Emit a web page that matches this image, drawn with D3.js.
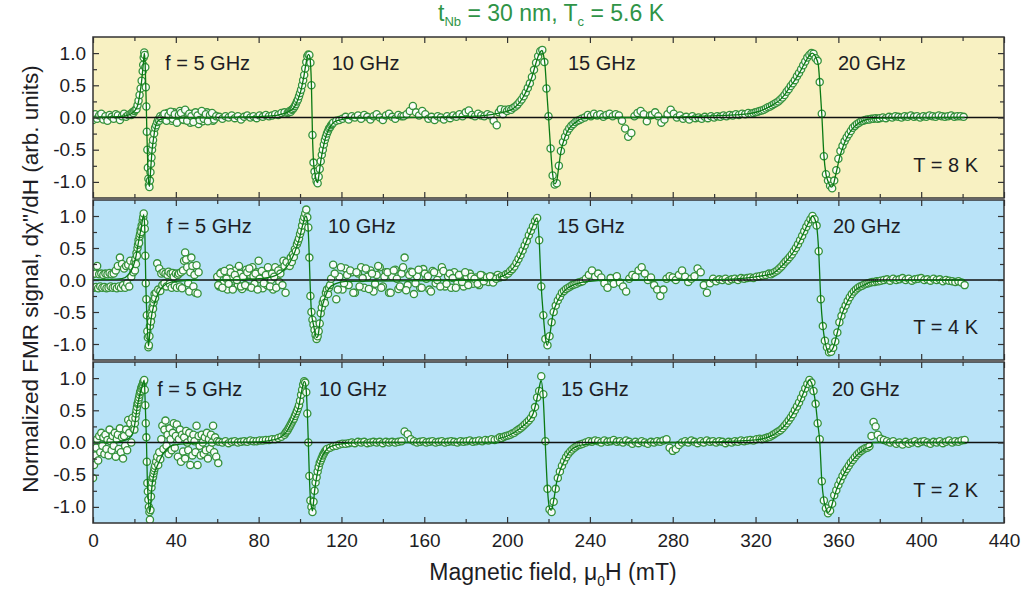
<!DOCTYPE html>
<html>
<head>
<meta charset="utf-8">
<script src="https://cdn.jsdelivr.net/npm/d3@7"></script>
<style>
  body { margin: 0; background: #ffffff; }
  svg { display: block; }
  text { font-family: "Liberation Sans", Arial, Helvetica, sans-serif; }
</style>
</head>
<body>
<svg id="chart" width="1031" height="590"></svg>
<script>
// ---------------------------------------------------------------------------
// Measured FMR derivative signal, one list of field sweeps per temperature.
// Each sweep run: [start field (mT), field step (mT), normalized signal values]
// ---------------------------------------------------------------------------
const scan8K = [
  [0, 1, [-0.04,0.05,-0.02,0.03,0.06,-0.03,0.02,-0.05,0.04,0.01,-0.02,0.05,0.03,-0.04,0.02,0.06,0.01,0.04]],
  [18, 0.5, [0.05,0.04,0.08,0.07,0.10,0.12,0.13,0.19,0.26,0.35,0.45,0.57]],
  [24, 0.25, [0.72,0.82,0.93,1.01,0.97,0.78,0.47,0.17,-0.22,-0.50,-0.78,-0.95,-1.05,-1.08,-0.98,-0.85,-0.72,-0.62,-0.50,-0.42,-0.35]],
  [29.5, 0.5, [-0.25,-0.16,-0.12,-0.07,-0.03,-0.05,0.02,-0.01]],
  [34, 1, [0.04,-0.03,0.07,0.02,-0.05,0.08,0.03,-0.06,0.10,0.05,-0.04,0.09,0.02,-0.08,0.06,-0.02,0.04,-0.10,0.05,-0.06,0.03,0.08,-0.04,0.02,-0.05,0.03,0.01]],
  [34.5, 1, [0.06,-0.05,0.03,0.09,-0.02,0.05,-0.08,0.04,0.07,-0.03,0.12,-0.05,0.06,0.02,-0.07,0.08,0.03,-0.04,0.10,-0.02,0.05,-0.06,0.04,0.07,-0.03,0.02]],
  [61, 1.5, [0.01,-0.02,0.02,0.00,0.03,-0.01,0.02,-0.03,0.01,0.03,0.00,0.02,-0.01,0.03,0.01,0.04,0.02,0.03,0.05,0.04,0.07,0.08]],
  [94, 0.5, [0.07,0.08,0.10,0.09,0.12,0.13,0.15,0.18,0.21,0.25,0.28,0.33,0.38,0.43,0.50,0.58,0.66,0.76,0.86,0.95]],
  [104, 0.5, [0.98,0.97,0.85,0.50,-0.27,-0.70,-0.84,-0.92,-0.99,-1.02,-0.92,-0.80,-0.68,-0.58,-0.50,-0.42,-0.35,-0.30,-0.25,-0.21,-0.17,-0.15,-0.12,-0.10,-0.08]],
  [117.5, 1.5, [-0.05,-0.04,-0.02,0.01,-0.03,0.02,0.00,0.03,-0.02,0.04,0.01,-0.03,0.02,0.05,0.00,-0.04,0.03,0.06,0.01,-0.02,0.04,0.02]],
  [150, 1.5, [0.02,0.05,0.10,0.18,0.08,0.03,0.10,0.05,-0.02,0.01,-0.04,0.02,0.00,-0.03,0.02,-0.01,0.03,0.01,0.05,0.02,0.08,0.11,0.04,0.02,0.06,0.03,0.02,0.05,0.03,-0.05,-0.12]],
  [196, 1, [0.08,0.13,0.05,0.12,0.10,0.13,0.12,0.15,0.17,0.20,0.24,0.28,0.33,0.39,0.46,0.53,0.63,0.74,0.85,0.95,1.03,1.05,0.86,0.45,0.02,-0.48,-0.90,-1.04,-1.02,-0.75,-0.52,-0.38,-0.30,-0.22,-0.17,-0.13,-0.10,-0.07,-0.05,-0.04,-0.02]],
  [237.5, 1.5, [0.00,0.04,0.02,0.06,0.03,0.05,0.01,0.04,0.06,0.02,0.05,0.03,-0.05,-0.17,-0.30,-0.24,0.02,0.07,0.10,0.05,-0.06,0.03]],
  [270, 1.5, [0.04,0.08,0.02,-0.08,-0.03,0.05,0.12,0.06,0.00,0.03,-0.02,0.01,-0.03,0.02,-0.01,0.00,-0.02,0.01,-0.01,0.02,0.00,0.02,0.01,0.03,0.02,0.04,0.03,0.05,0.04,0.06,0.05,0.07,0.06]],
  [319, 1, [0.07,0.08,0.09,0.10,0.11,0.12,0.14,0.16,0.17,0.19,0.21,0.23,0.25,0.28,0.31,0.35,0.40,0.44,0.49,0.53,0.58,0.64,0.69,0.75,0.81,0.87,0.93,0.97,1.00,0.99,
            0.92,0.88,0.55,0.06,-0.60,-0.88,-0.98,-1.06,-1.10,-0.98,-0.82,-0.64,-0.52,-0.44,-0.37,-0.31,-0.26,-0.21,-0.16,-0.13,-0.10,-0.08,-0.06,-0.05,-0.04,-0.03,-0.03,-0.02,-0.02,-0.01,-0.02,-0.01]],
  [381.5, 1.5, [0.00,-0.01,0.01,0.00,0.02,0.01,0.00,0.02,0.01,0.03,0.01,0.02,0.00,0.02,0.01,0.03,0.02,0.01,0.03,0.02,0.01,0.02,0.03,0.01,0.02,0.02,0.01]]
];

const scan4K = [
  [0, 0.5, [0.09,-0.12,0.10,-0.11,0.22,-0.13,0.09,-0.10,0.10,-0.12,0.08,-0.11,0.10,-0.13,0.09,-0.12,0.11,-0.10,0.09,-0.12,0.10,-0.11,0.15,-0.13,0.22,-0.10,0.35,-0.12,0.25,-0.08,0.18,-0.12,0.22,-0.05,0.24,-0.10,0.30,0.05,0.20,0.12]],
  [20, 0.25, [0.28,0.15,0.33,0.25,0.42,0.38,0.50,0.55,0.62,0.58,0.68,0.72,0.78,0.75,0.85,0.82,0.93,0.98,1.04,0.90,0.80,0.38,-0.05,-0.30,-0.55,-0.80,-0.90,-1.05,-1.02,-0.88,-0.72,-0.60,-0.65,-0.50,-0.55,-0.42,-0.45,-0.35,-0.30,-0.22,-0.28]],
  [30.5, 0.5, [-0.20,0.26,-0.15,0.18,-0.17,0.10,-0.08,0.12,-0.05,0.10,-0.10,0.08,0.13,-0.06,0.10,-0.12,0.11,0.05,-0.09,0.10,-0.12,0.08,0.10,-0.10,0.12,-0.13,0.15,0.30,0.43,0.32,0.20,-0.05,-0.18,0.12,0.35,0.22,-0.10,0.08,-0.20,0.23,-0.21,0.12]],
  [60, 1, [0.05,-0.10,0.12,-0.05,0.08,-0.15,0.18,0.02,-0.12,0.15,-0.08,0.10,-0.14,0.05,0.16,-0.10,0.08,0.20,-0.06,0.12,0.30,0.05,-0.13,0.10,-0.08,0.15,0.00,-0.15,0.20,0.08,-0.03,0.18,0.30,-0.20,0.25]],
  [60.5, 1, [-0.08,0.10,-0.12,0.14,0.02,-0.06,0.12,-0.15,0.08,0.00,0.22,-0.10,0.05,-0.08,0.12,0.18,-0.12,0.06,0.10,-0.15,0.02,0.14,-0.05,0.08,0.20,-0.10,0.10,0.05,-0.12,0.15,0.10,-0.08,0.22,0.28]],
  [95, 0.5, [0.22,0.35,0.28,0.40,0.36,0.48,0.45,0.56,0.60,0.65,0.72,0.77,0.85,0.93,0.98,1.04,1.10,0.98,0.82,0.35,-0.25,-0.50,-0.62,-0.70,-0.78,-0.86,-0.92,-0.88,-0.80,-0.68,-0.52,-0.43,-0.35,-0.30,-0.36,-0.20,-0.15,-0.22,-0.12,-0.08,0.02]],
  [116, 1.5, [0.24,-0.30,0.05,-0.15,0.18,-0.08,0.12,-0.20,0.10,0.20,-0.12,0.05,0.15,-0.18,0.08,0.20,-0.10,0.12,-0.20,0.05,0.16,-0.14,0.10,0.35,-0.08,0.13,-0.22,0.06,-0.12,0.17,0.02,-0.15,0.14,-0.05,0.10,0.20,-0.10,0.06,-0.12,0.12,-0.04,0.08,-0.10,0.05,0.10,-0.06,0.04,-0.08,0.07,0.02,-0.03,0.05,0.03,0.08]],
  [116.75, 1.5, [0.10,-0.15,0.20,-0.05,0.08,0.15,-0.20,0.12,-0.10,0.03,0.18,-0.14,0.10,-0.06,0.22,-0.12,0.05,0.12,-0.20,0.15,0.02,-0.10,0.20,-0.16,0.08,0.12,-0.05,0.16,-0.12,0.10,0.06,-0.18,0.12,0.00,-0.10,0.14,-0.06,0.10,0.03,-0.12,0.08,-0.03,0.12,-0.08,0.05,0.02,-0.06,0.08,-0.02,0.04,0.06,-0.04,0.02]],
  [196.5, 1, [0.04,0.06,0.05,0.09,0.10,0.14,0.17,0.21,0.27,0.33,0.39,0.46,0.54,0.61,0.70,0.77,0.84,0.92,0.97,0.62,-0.10,-0.55,-0.92,-1.02,-0.88,-0.66,-0.50,-0.40,-0.32,-0.26,-0.20,-0.17,-0.14,-0.12,-0.10,-0.08,-0.07,-0.06,-0.04,-0.03,-0.02]],
  [238, 1.5, [0.02,0.08,0.15,0.05,0.10,0.04,-0.05,-0.12,0.03,-0.06,0.06,-0.04,-0.10,-0.18,0.02,0.08,0.05,0.15,0.20,0.10,0.00,0.04,-0.08,-0.15,-0.25,-0.15,0.02,0.06,0.04,0.00,0.08,0.15,0.05,-0.03,0.02]],
  [290.5, 1.5, [0.06,0.18,0.12,-0.08,-0.20,-0.05,0.02,-0.02,0.01,0.00,0.02,-0.01,0.01,0.02,0.00,0.03,0.02,0.03,0.04,0.03,0.05,0.06,0.07,0.08,0.10]],
  [327.5, 1, [0.09,0.11,0.13,0.15,0.18,0.21,0.25,0.29,0.32,0.36,0.40,0.45,0.50,0.56,0.62,0.69,0.76,0.83,0.89,0.95,1.00,0.95,0.85,0.45,-0.30,-0.72,-0.95,-1.05,-1.13,-1.12,-1.06,-0.96,-0.82,-0.66,-0.56,-0.47,-0.40,-0.33,-0.27,-0.22,-0.18,-0.15,-0.12,-0.10,-0.09,-0.07,-0.06,-0.05,-0.04,-0.03,-0.03,-0.02,-0.02,-0.01]],
  [382, 1.5, [0.00,0.01,-0.01,0.02,0.00,0.01,0.03,0.00,0.02,-0.01,0.01,0.02,0.03,0.00,0.01,-0.01,0.02,0.00,0.01,-0.02,0.00,-0.01,-0.02,-0.03,-0.02,-0.04,-0.08]]
];

const scan2K = [
  [0, 0.5, [-0.55,-0.35,-0.20,-0.08,0.05,-0.28,0.10,-0.15,0.15,-0.05,0.08,-0.18,0.12,-0.10,0.04,-0.20,0.20,0.02,-0.12,0.10,-0.05,0.15,-0.22,0.05,0.12,-0.10,0.22,-0.15,0.08,-0.25,0.10,-0.05,0.20,-0.12,0.35,0.15,0.30,0.00,0.38,0.22]],
  [20, 0.25, [0.20,0.30,0.38,0.45,0.50,0.55,0.60,0.62,0.66,0.70,0.74,0.78,0.80,0.84,0.86,0.88,0.90,0.93,0.95,0.97,0.82,0.58,0.30,0.08,-0.30,-0.63,-0.76,-0.89,-1.00,-1.08,-1.20,-1.05,-0.84,-0.70,-0.62,-0.55,-0.53,-0.48,-0.44,-0.40,-0.36]],
  [30.5, 0.5, [-0.30,-0.22,-0.35,-0.15,-0.26,0.05,0.26,-0.10,0.20,0.34,-0.05,0.12,-0.18,0.22,0.05,-0.12,0.15,0.30,-0.08,0.10,0.28,-0.22,0.05,0.20,-0.30,0.12,-0.14,0.08,-0.25,0.18,0.00,-0.12,0.15,-0.35,0.05,-0.20,0.12,0.02,-0.15,0.26,-0.35,0.10,-0.05,-0.20,0.12,0.00,-0.18,0.08,-0.12,0.15,-0.25,0.05,-0.10,0.12,0.00,0.26,-0.15,0.08,-0.22,0.02,-0.32]],
  [61, 1.5, [0.01,0.00,0.02,-0.01,0.01,0.02,0.00,0.01,0.02,0.01,0.03,0.02,0.02,0.03,0.03,0.04,0.04,0.05,0.05,0.07,0.09,0.12]],
  [93, 0.5, [0.15,0.17,0.19,0.22,0.25,0.28,0.31,0.34,0.37,0.41,0.45,0.49,0.53,0.58,0.65,0.74,0.82,0.90,0.95,0.93,0.78,0.45,0.00,-0.52,-0.90,-1.00,-1.08,-0.92,-0.75,-0.62,-0.54,-0.45,-0.38,-0.32,-0.28,-0.24,-0.20,-0.17,-0.14,-0.12,-0.10]],
  [114.5, 1.5, [-0.08,-0.06,-0.05,-0.03,-0.02,-0.02,-0.01,0.00,-0.01,0.01,0.00,0.01,-0.01,0.00,0.01,0.00,0.01,-0.01,0.01,0.00,0.01,0.00,0.01,0.02,0.17,0.13,0.05,0.02,0.00,0.01,0.02,0.00,0.01,0.02,0.00,0.01,0.02,0.00,0.01,0.02,0.01,0.00,0.02,0.01,0.02,0.03,0.01,0.02,0.03,0.02,0.04,0.03,0.05,0.04,0.06]],
  [196.5, 1, [0.08,0.07,0.09,0.10,0.11,0.12,0.14,0.15,0.18,0.20,0.22,0.25,0.28,0.31,0.34,0.38,0.44,0.55,0.70,0.80,1.03,0.75,0.02,-0.72,-1.04,-1.08,-0.92,-0.72,-0.55,-0.45,-0.36,-0.29,-0.23,-0.18,-0.14,-0.11,-0.08,-0.06,-0.04,-0.03,-0.02]],
  [238, 1.5, [0.00,0.02,0.01,0.03,0.02,0.00,0.03,0.01,0.02,0.04,0.01,0.02,0.00,0.03,0.01,-0.02,0.01,-0.01,0.02,0.00,-0.02,0.01,0.00,0.02,0.01,0.03,0.05,-0.08,-0.13,-0.10,-0.04,0.00,0.02,0.00,0.03,0.01,-0.01,0.02,0.00,0.03,0.01,0.02,0.00,0.02,0.01,-0.01,0.01,0.00,0.02,0.01,0.03,0.02,0.03,0.04,0.03,0.05,0.06]],
  [323, 1, [0.05,0.06,0.07,0.08,0.09,0.11,0.13,0.15,0.17,0.19,0.22,0.26,0.30,0.34,0.39,0.44,0.50,0.56,0.62,0.69,0.76,0.84,0.91,0.97,0.93,0.80,0.60,0.30,0.05,-0.60,-0.90,-1.02,-1.10,-1.06,-0.95,-0.82,-0.74,-0.66,-0.59,-0.52,-0.46,-0.41,-0.36,-0.31,-0.27,-0.23,-0.19,-0.16,-0.13,-0.11,-0.09,-0.08,-0.06,0.10,0.32,0.25,0.12]],
  [380.5, 1.5, [0.06,0.04,0.02,0.00,0.02,-0.02,0.00,-0.03,0.01,-0.02,0.00,0.02,-0.01,0.01,0.02,0.00,-0.02,0.01,0.00,0.02,-0.01,0.01,0.03,0.00,0.02,0.01,0.03,0.04]]
];

// Fitted resonance curves, [field (mT), signal] knots, one list per frequency
const fit8K = [
  [[0,0],[15,0.02],[18,0.05],[20,0.1],[21.5,0.18],[22.5,0.34],[23.5,0.57],[24.25,0.82],[24.8,1.0],[25.2,0.82],[25.5,0.47],[25.75,0.17],[26,-0.22],[26.5,-0.78],[27,-1.04],[27.3,-1.07],[27.75,-0.86],[28.5,-0.52],[29.5,-0.27],[30,-0.16],[31,-0.07],[32.5,-0.03],[36,-0.01],[60,0]],
  [[61,0],[85,0.02],[92,0.06],[95,0.1],[97,0.15],[99,0.28],[100.5,0.43],[101.8,0.63],[103,0.86],[104,0.98],[104.6,0.96],[105.1,0.82],[105.5,0.5],[106,-0.27],[106.5,-0.68],[107.2,-0.87],[108,-0.99],[108.5,-1.01],[109,-0.92],[110,-0.68],[111,-0.5],[112,-0.35],[113,-0.25],[114.5,-0.15],[116,-0.08],[119,-0.04],[125,-0.01],[150,0]],
  [[150,0],[185,0.02],[193,0.05],[198,0.08],[203,0.14],[206,0.23],[208,0.33],[210,0.46],[212,0.63],[214,0.85],[215.5,0.99],[216.8,1.04],[217.5,0.98],[218.3,0.82],[219,0.48],[220,0.02],[221,-0.48],[222,-0.88],[223,-1.03],[224,-0.98],[225,-0.75],[226,-0.53],[228,-0.3],[230,-0.17],[232.5,-0.09],[236,-0.02],[250,0],[270,0]],
  [[270,0],[295,0.02],[310,0.04],[317,0.06],[322,0.1],[325,0.14],[328.5,0.2],[331.7,0.27],[334,0.35],[336.5,0.47],[339,0.58],[341.3,0.7],[343.5,0.83],[345.5,0.94],[347.3,1.0],[348.3,0.98],[349.3,0.92],[350.3,0.82],[351,0.55],[352,0.05],[353,-0.58],[354,-0.88],[355,-0.99],[356.5,-1.08],[357.5,-1.05],[358.5,-0.92],[359.5,-0.78],[360.6,-0.62],[362.5,-0.43],[365,-0.26],[367.5,-0.15],[370.2,-0.08],[374,-0.03],[380,-0.01],[421,0]]
];

const fit4K = [
  [[0,0],[14,0.02],[17,0.08],[19,0.18],[20.5,0.33],[22,0.6],[23.3,0.82],[24.5,1.02],[25,0.8],[25.5,-0.05],[26,-0.55],[26.5,-0.9],[26.8,-1.03],[27.3,-0.88],[27.8,-0.68],[28.5,-0.52],[29.2,-0.42],[30.5,-0.28],[32.5,-0.15],[35,-0.07],[40,-0.02],[51,0]],
  [[60,0],[80,0.02],[88,0.07],[92,0.15],[95,0.27],[97.5,0.44],[99.5,0.63],[101.2,0.85],[102.8,1.0],[103.6,0.92],[104.2,0.6],[104.8,0],[105.5,-0.5],[106.5,-0.7],[108,-0.9],[108.6,-0.88],[109.5,-0.68],[110.5,-0.45],[112,-0.28],[114,-0.13],[117,-0.06],[122,-0.02],[196,0]],
  [[196,0.04],[200,0.1],[202.5,0.17],[204.6,0.27],[207,0.42],[209.4,0.61],[211.5,0.77],[213,0.89],[214.4,0.97],[215.5,0.62],[216.4,-0.05],[217.5,-0.55],[218.5,-0.9],[219.4,-1.02],[220.5,-0.88],[222.2,-0.53],[224.5,-0.32],[227.1,-0.19],[230,-0.11],[233.5,-0.06],[240,-0.02],[250,0],[290,0]],
  [[290,0],[305,0.01],[315,0.03],[322,0.06],[327.5,0.09],[331.5,0.18],[335.5,0.32],[339.5,0.5],[342.5,0.69],[345.5,0.89],[347.5,1.0],[348.5,0.96],[349.5,0.85],[350.5,0.45],[351.5,-0.3],[352.5,-0.72],[353.5,-0.95],[355.5,-1.13],[357.5,-1.06],[359.5,-0.82],[361.5,-0.56],[363.5,-0.4],[365.5,-0.27],[368.5,-0.15],[371.8,-0.09],[376,-0.03],[385,-0.01],[421,0]]
];

const fit2K = [
  [[0,0],[12,0.01],[16,0.04],[18.5,0.1],[20,0.25],[21.2,0.52],[22.5,0.73],[23.8,0.88],[24.75,0.97],[25.25,0.58],[25.8,0.05],[26.25,-0.6],[26.75,-0.88],[27.3,-1.08],[27.8,-1.0],[28.3,-0.74],[29.2,-0.53],[30.8,-0.38],[32.5,-0.26],[34,-0.17],[35.7,-0.1],[38,-0.05],[44,-0.02],[61,0]],
  [[61,0],[80,0.01],[87,0.04],[90.5,0.08],[93,0.15],[95.2,0.26],[97.5,0.41],[99.2,0.54],[100.8,0.8],[102,0.95],[102.6,0.92],[103.2,0.7],[103.6,0.4],[104,0],[104.5,-0.52],[105,-0.88],[105.5,-1.0],[106,-1.06],[106.5,-0.93],[107,-0.76],[108,-0.54],[109.5,-0.32],[111,-0.2],[113,-0.1],[116,-0.05],[120,-0.02],[130,0],[196,0]],
  [[196,0.06],[201.5,0.12],[205,0.19],[207.8,0.26],[210.5,0.34],[212.6,0.45],[214.3,0.66],[215.5,0.85],[216.4,0.96],[217.4,0.72],[218.4,0.02],[219.5,-0.72],[220.6,-1.03],[221.4,-1.05],[222.5,-0.9],[223.9,-0.62],[225.5,-0.44],[227.1,-0.32],[230,-0.15],[233.5,-0.06],[240,-0.02],[250,0],[290,0]],
  [[290,0],[310,0.02],[320,0.04],[325,0.07],[328,0.11],[331,0.17],[334,0.26],[336.5,0.37],[339,0.5],[341.3,0.63],[343.5,0.8],[346,0.97],[347,0.93],[348,0.8],[349,0.6],[350,0.3],[351,0.02],[352,-0.6],[353,-0.9],[354,-1.02],[355,-1.09],[356.2,-1.04],[357.5,-0.9],[359,-0.74],[361.2,-0.58],[363.8,-0.42],[367,-0.27],[370.2,-0.16],[373.4,-0.09],[376,-0.06],[376.5,0],[421,0]]
];

const frequencyLabels = ["f = 5 GHz", "10 GHz", "15 GHz", "20 GHz"];
const temperatureLabels = ["T = 8 K", "T = 4 K", "T = 2 K"];
const fieldTicks = d3.range(0, 441, 40);
const signalTicks = [-1.0, -0.5, 0.0, 0.5, 1.0];

// ---------------------------------------------------------------------------
// Layout
// ---------------------------------------------------------------------------
const FONT = '"Liberation Sans", Arial, Helvetica, sans-serif';
const INK = "#1d1d24";
const POINT_STROKE = "#34913a";
const FIT_STROKE = "#0b7a14";

const panels = [
  { top: 37,  bottom: 198, fill: "#f8f1c2", scan: scan8K, fits: fit8K, temp: temperatureLabels[0],
    freqAt: [34.8, 115.3, 229.4, 359.8], labelBase: 70 },
  { top: 200, bottom: 360, fill: "#b9e3f8", scan: scan4K, fits: fit4K, temp: temperatureLabels[1],
    freqAt: [35.6, 113.5, 224.1, 357.4], labelBase: 233 },
  { top: 362, bottom: 523, fill: "#b9e3f8", scan: scan2K, fits: fit2K, temp: temperatureLabels[2],
    freqAt: [31.0, 109.2, 226.0, 356.9], labelBase: 396 }
];

const svg = d3.select("#chart");
const x = d3.scaleLinear().domain([0, 440]).range([93, 1004]);

function styleTicks(g) {
  g.select(".domain").remove();
  g.selectAll(".tick line").attr("stroke", "#333").attr("stroke-width", 1.2);
}

panels.forEach((p, i) => {
  const y = d3.scaleLinear().domain([-1.25, 1.25]).range([p.bottom, p.top]);
  const g = svg.append("g");
  const w = x.range()[1] - x.range()[0];
  const h = p.bottom - p.top;

  g.append("rect")
    .attr("x", x.range()[0]).attr("y", p.top)
    .attr("width", w).attr("height", h)
    .attr("fill", p.fill);

  const clipId = "clip" + i;
  svg.append("clipPath").attr("id", clipId)
    .append("rect")
    .attr("x", x.range()[0]).attr("y", p.top)
    .attr("width", w).attr("height", h);

  const plot = g.append("g").attr("clip-path", `url(#${clipId})`);

  // expand sweep runs into points
  const points = p.scan.flatMap(([h0, dh, vals]) =>
    vals.map((v, k) => ({ h: h0 + k * dh, v })));

  plot.append("g").selectAll("circle")
    .data(points)
    .join("circle")
    .attr("cx", d => x(d.h))
    .attr("cy", d => y(d.v))
    .attr("r", 3.6)
    .attr("fill", "#ffffff")
    .attr("fill-opacity", 0.92)
    .attr("stroke", POINT_STROKE)
    .attr("stroke-width", 1.3);

  // zero reference line
  plot.append("line")
    .attr("x1", x(0)).attr("x2", x(440))
    .attr("y1", y(0)).attr("y2", y(0))
    .attr("stroke", "#111").attr("stroke-width", 1.3);

  const line = d3.line()
    .x(d => x(d[0]))
    .y(d => y(d[1]))
    .curve(d3.curveMonotoneX);

  plot.append("g").selectAll("path")
    .data(p.fits)
    .join("path")
    .attr("d", line)
    .attr("fill", "none")
    .attr("stroke", FIT_STROKE)
    .attr("stroke-width", 1.3);

  // frequency labels
  g.append("g").selectAll("text")
    .data(frequencyLabels)
    .join("text")
    .attr("x", (d, k) => x(p.freqAt[k]))
    .attr("y", p.labelBase)
    .attr("font-size", 20)
    .attr("fill", INK)
    .text(d => d);

  // temperature label
  g.append("text")
    .attr("x", 978)
    .attr("y", y(-0.84))
    .attr("text-anchor", "end")
    .attr("font-size", 20)
    .attr("fill", INK)
    .text(p.temp);

  // inward ticks on all four edges
  const xMinor = d3.range(20, 441, 40);
  const yMinor = [-0.75, -0.25, 0.25, 0.75];
  [[fieldTicks, 6], [xMinor, 4]].forEach(([vals, s]) => {
    g.append("g").attr("transform", `translate(0,${p.top})`)
      .call(d3.axisTop(x).tickValues(vals).tickSize(-s).tickFormat(""))
      .call(styleTicks);
    g.append("g").attr("transform", `translate(0,${p.bottom})`)
      .call(d3.axisBottom(x).tickValues(vals).tickSize(-s).tickFormat(""))
      .call(styleTicks);
  });
  [[signalTicks, 6], [yMinor, 4]].forEach(([vals, s]) => {
    g.append("g").attr("transform", `translate(${x.range()[0]},0)`)
      .call(d3.axisLeft(y).tickValues(vals).tickSize(-s).tickFormat(""))
      .call(styleTicks);
    g.append("g").attr("transform", `translate(${x.range()[1]},0)`)
      .call(d3.axisRight(y).tickValues(vals).tickSize(-s).tickFormat(""))
      .call(styleTicks);
  });

  // signal tick labels
  g.append("g").attr("transform", `translate(${x.range()[0]},0)`)
    .call(d3.axisLeft(y).tickValues(signalTicks).tickSize(0).tickPadding(7)
      .tickFormat(d => d.toFixed(1)))
    .call(a => a.select(".domain").remove())
    .call(a => a.selectAll("text").attr("font-size", 19).attr("font-family", FONT).attr("fill", INK));

  // panel frame
  g.append("rect")
    .attr("x", x.range()[0]).attr("y", p.top)
    .attr("width", w).attr("height", h)
    .attr("fill", "none")
    .attr("stroke", "#333").attr("stroke-width", 1.5);

  // field tick labels under the last panel
  if (i === panels.length - 1) {
    g.append("g").attr("transform", `translate(0,${p.bottom})`)
      .call(d3.axisBottom(x).tickValues(fieldTicks).tickSize(0).tickPadding(11)
        .tickFormat(d3.format("d")))
      .call(a => a.select(".domain").remove())
      .call(a => a.selectAll("text").attr("font-size", 19).attr("font-family", FONT).attr("fill", INK));
  }
});

// title
const title = svg.append("text")
  .attr("x", 551).attr("y", 21)
  .attr("text-anchor", "middle")
  .attr("font-size", 23)
  .attr("fill", "#2f9447");
title.append("tspan").text("t");
title.append("tspan").attr("font-size", 13).attr("dy", 5).text("Nb");
title.append("tspan").attr("dy", -5).text(" = 30 nm, T");
title.append("tspan").attr("font-size", 13).attr("dy", 5).text("c");
title.append("tspan").attr("dy", -5).text(" = 5.6 K");

// axis titles
const xTitle = svg.append("text")
  .attr("x", 553).attr("y", 580)
  .attr("text-anchor", "middle")
  .attr("font-size", 23)
  .attr("fill", INK);
xTitle.append("tspan").text("Magnetic field, \u03BC");
xTitle.append("tspan").attr("font-size", 14).attr("dy", 6).text("0");
xTitle.append("tspan").attr("dy", -6).text("H (mT)");

svg.append("text")
  .attr("transform", "translate(37.5,279) rotate(-90)")
  .attr("text-anchor", "middle")
  .attr("font-size", 22.5)
  .attr("fill", INK)
  .text("Normalized FMR signal, d\u03C7\"/dH (arb. units)");
</script>
</body>
</html>
